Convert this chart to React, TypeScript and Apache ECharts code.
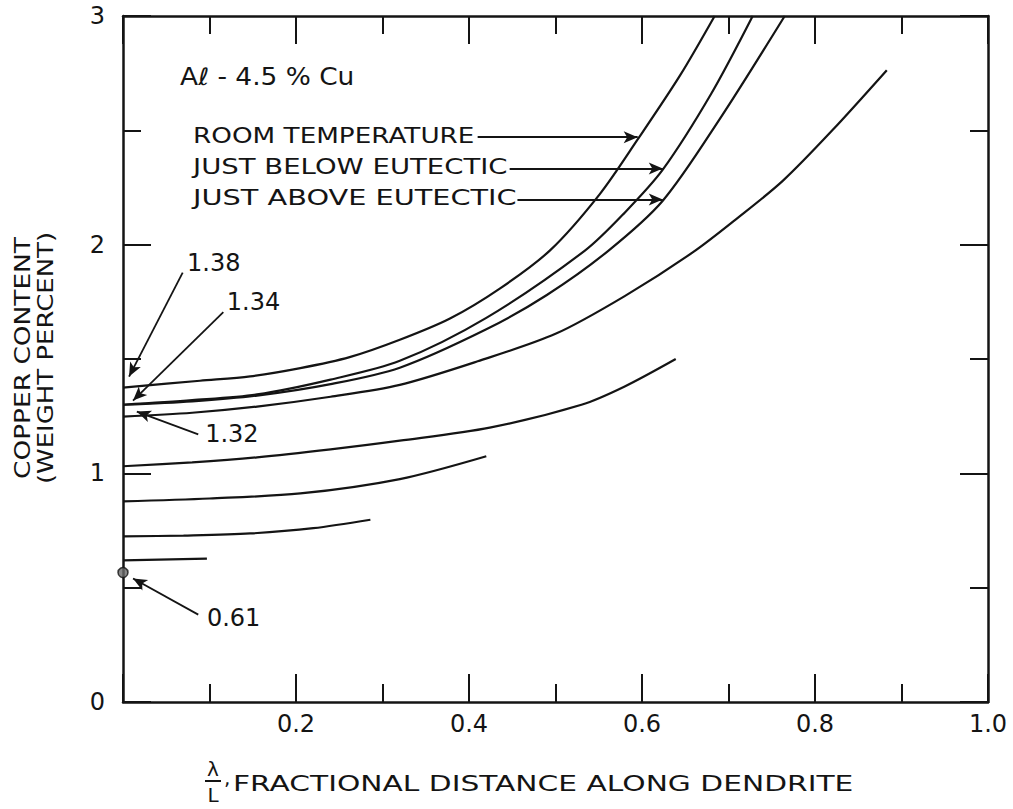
import React, { useEffect, useRef } from "react";
import * as echarts from "echarts";

const FONT = '"DejaVu Sans", "Liberation Sans", sans-serif';
const INK = "#141414";

// Curves: [fractional distance λ/L, copper content wt%]
const roomTemperature = [
  [0, 1.375], [0.089, 1.405], [0.147, 1.424], [0.205, 1.46], [0.262, 1.508], [0.32, 1.584],
  [0.378, 1.677], [0.436, 1.809], [0.494, 1.976], [0.551, 2.22], [0.595, 2.46], [0.644, 2.74], [0.684, 3.0],
];
const justBelowEutectic = [
  [0, 1.3], [0.08, 1.32], [0.155, 1.345], [0.24, 1.41], [0.32, 1.492], [0.42, 1.68],
  [0.534, 1.974], [0.58, 2.14], [0.624, 2.328], [0.68, 2.66], [0.728, 3.0],
];
const justAboveEutectic = [
  [0, 1.3], [0.08, 1.315], [0.155, 1.34], [0.24, 1.39], [0.32, 1.462], [0.42, 1.63],
  [0.49, 1.78], [0.561, 1.973], [0.624, 2.192], [0.69, 2.55], [0.765, 3.0],
];
const curve4 = [
  [0, 1.248], [0.08, 1.265], [0.155, 1.292], [0.24, 1.335], [0.32, 1.387], [0.41, 1.49],
  [0.5, 1.61], [0.58, 1.775], [0.659, 1.967], [0.71, 2.115], [0.763, 2.28], [0.82, 2.5], [0.883, 2.763],
];
const curve5 = [
  [0, 1.031], [0.08, 1.048], [0.155, 1.07], [0.24, 1.105], [0.32, 1.143], [0.424, 1.2],
  [0.53, 1.3], [0.58, 1.38], [0.639, 1.5],
];
const curve6 = [[0, 0.877], [0.1, 0.89], [0.205, 0.912], [0.32, 0.975], [0.42, 1.075]];
const curve7 = [[0, 0.724], [0.07, 0.728], [0.147, 0.737], [0.22, 0.76], [0.286, 0.797]];
const curve8 = [[0, 0.619], [0.097, 0.627]];
const startPoint = [[0, 0.566]];

// Axis settings
const xMin = 0, xMax = 1, xInterval = 0.2;
const yMin = 0, yMax = 3, yInterval = 1;

// Annotation leader arrows (from -> tip), data coords
const arrowLines = [
  [[0.41, 2.47], [0.595, 2.47]],
  [[0.447, 2.333], [0.624, 2.333]],
  [[0.456, 2.197], [0.624, 2.197]],
  [[0.069, 1.878], [0.007, 1.423]],
  [[0.116, 1.705], [0.0116, 1.318]],
  [[0.087, 1.17], [0.016, 1.27]],
  [[0.087, 0.382], [0.0116, 0.54]],
];

// Annotation texts anchored in data coords (left, middle)
const annotationTexts = [
  { text: "Aℓ - 4.5 % Cu", at: [0.066, 2.735], size: 24, stretch: 1.1 },
  { text: "ROOM TEMPERATURE", at: [0.081, 2.475], size: 21, stretch: 1.25 },
  { text: "JUST BELOW EUTECTIC", at: [0.081, 2.34], size: 21, stretch: 1.31 },
  { text: "JUST ABOVE EUTECTIC", at: [0.081, 2.203], size: 21, stretch: 1.37 },
  { text: "1.38", at: [0.074, 1.92], size: 24, stretch: 1 },
  { text: "1.34", at: [0.12, 1.749], size: 24, stretch: 1 },
  { text: "1.32", at: [0.095, 1.174], size: 24, stretch: 1 },
  { text: "0.61", at: [0.097, 0.369], size: 24, stretch: 1 },
];

const curves = [roomTemperature, justBelowEutectic, justAboveEutectic, curve4, curve5, curve6, curve7, curve8];

export default function App() {
  const ref = useRef<HTMLDivElement>(null);

  useEffect(() => {
    if (!ref.current) return;
    const chart = echarts.init(ref.current, undefined, { renderer: "svg" });

    const tickParts = {
      axisLine: { show: true, onZero: false, lineStyle: { color: INK, width: 2.5 } },
      axisTick: { show: true, inside: true, length: 28, lineStyle: { color: INK, width: 2 } },
      minorTick: { show: true, splitNumber: 2, length: 18, lineStyle: { color: INK, width: 2 } },
      splitLine: { show: false },
      minorSplitLine: { show: false },
    };

    const xCommon = { type: "value", min: xMin, max: xMax, interval: xInterval, ...tickParts };
    const yCommon = { type: "value", min: yMin, max: yMax, interval: yInterval, ...tickParts };

    const lineSeries = curves.map((c, i) => ({
      type: "line",
      data: c,
      showSymbol: false,
      symbol: "none",
      smooth: 0.3,
      lineStyle: { color: INK, width: 2.2 },
      silent: true,
      z: 3,
      ...(i === curves.length - 1
        ? {
            markLine: {
              silent: true,
              symbol: ["none", "arrow"],
              symbolSize: [9, 14],
              label: { show: false },
              lineStyle: { color: INK, width: 1.8, type: "solid" },
              data: arrowLines.map(([a, b]) => [{ coord: a }, { coord: b }]),
            },
          }
        : {}),
    }));

    chart.setOption({
      animation: false,
      backgroundColor: "#ffffff",
      grid: { left: 123, top: 16, width: 865, height: 686, outerBoundsMode: "none", containLabel: false },
      xAxis: [
        {
          ...xCommon,
          position: "bottom",
          axisLabel: {
            show: true,
            margin: 10,
            color: INK,
            fontFamily: FONT,
            fontSize: 24,
            formatter: (v: number) => (v === 0 ? "" : v.toFixed(1)),
          },
        },
        {
          ...xCommon,
          position: "top",
          axisLabel: { show: false },
        },
      ],
      yAxis: [
        {
          ...yCommon,
          position: "left",
          axisLabel: { show: true, margin: 18, color: INK, fontFamily: FONT, fontSize: 24, formatter: (v: number) => String(v) },
        },
        {
          ...yCommon,
          position: "right",
          axisLabel: { show: false },
        },
      ],
      series: [
        ...lineSeries,
        {
          type: "scatter",
          data: startPoint,
          symbol: "circle",
          symbolSize: 10,
          clip: false,
          itemStyle: { color: "#6a6a6a", borderColor: INK, borderWidth: 1.5 },
          z: 4,
        },
      ],
    });

    const texts = annotationTexts.map((t) => {
      const p = chart.convertToPixel({ gridIndex: 0 }, t.at) as number[];
      return {
        type: "text",
        x: p[0],
        y: p[1],
        scaleX: t.stretch,
        silent: true,
        style: {
          text: t.text,
          fill: INK,
          font: `${t.size}px ${FONT}`,
          textAlign: "left",
          textVerticalAlign: "middle",
        },
      };
    });

    chart.setOption({
      graphic: [
        ...texts,
        {
          type: "text",
          x: 22,
          y: 358,
          rotation: Math.PI / 2,
          scaleX: 1.2,
          silent: true,
          style: { text: "COPPER CONTENT", fill: INK, font: `22px ${FONT}`, textAlign: "center", textVerticalAlign: "middle" },
        },
        {
          type: "text",
          x: 46,
          y: 358,
          rotation: Math.PI / 2,
          scaleX: 1.18,
          silent: true,
          style: { text: "(WEIGHT PERCENT)", fill: INK, font: `22px ${FONT}`, textAlign: "center", textVerticalAlign: "middle" },
        },
        {
          type: "text",
          x: 213,
          y: 769,
          silent: true,
          style: { text: "λ", fill: INK, font: `20px ${FONT}`, textAlign: "center", textVerticalAlign: "middle" },
        },
        {
          type: "line",
          silent: true,
          shape: { x1: 205, y1: 781, x2: 221, y2: 781 },
          style: { stroke: INK, lineWidth: 2 },
        },
        {
          type: "text",
          x: 213,
          y: 795,
          silent: true,
          style: { text: "L", fill: INK, font: `20px ${FONT}`, textAlign: "center", textVerticalAlign: "middle" },
        },
        {
          type: "text",
          x: 224,
          y: 778,
          silent: true,
          style: { text: ",", fill: INK, font: `20px ${FONT}`, textAlign: "left", textVerticalAlign: "middle" },
        },
        {
          type: "text",
          x: 233,
          y: 783,
          scaleX: 1.35,
          silent: true,
          style: {
            text: "FRACTIONAL DISTANCE ALONG DENDRITE",
            fill: INK,
            font: `22px ${FONT}`,
            textAlign: "left",
            textVerticalAlign: "middle",
          },
        },
      ],
    });

    return () => chart.dispose();
  }, []);

  return (
    <div
      ref={ref}
      style={{ position: "fixed", left: 0, top: 0, width: 1013, height: 809, background: "#fff" }}
    />
  );
}
